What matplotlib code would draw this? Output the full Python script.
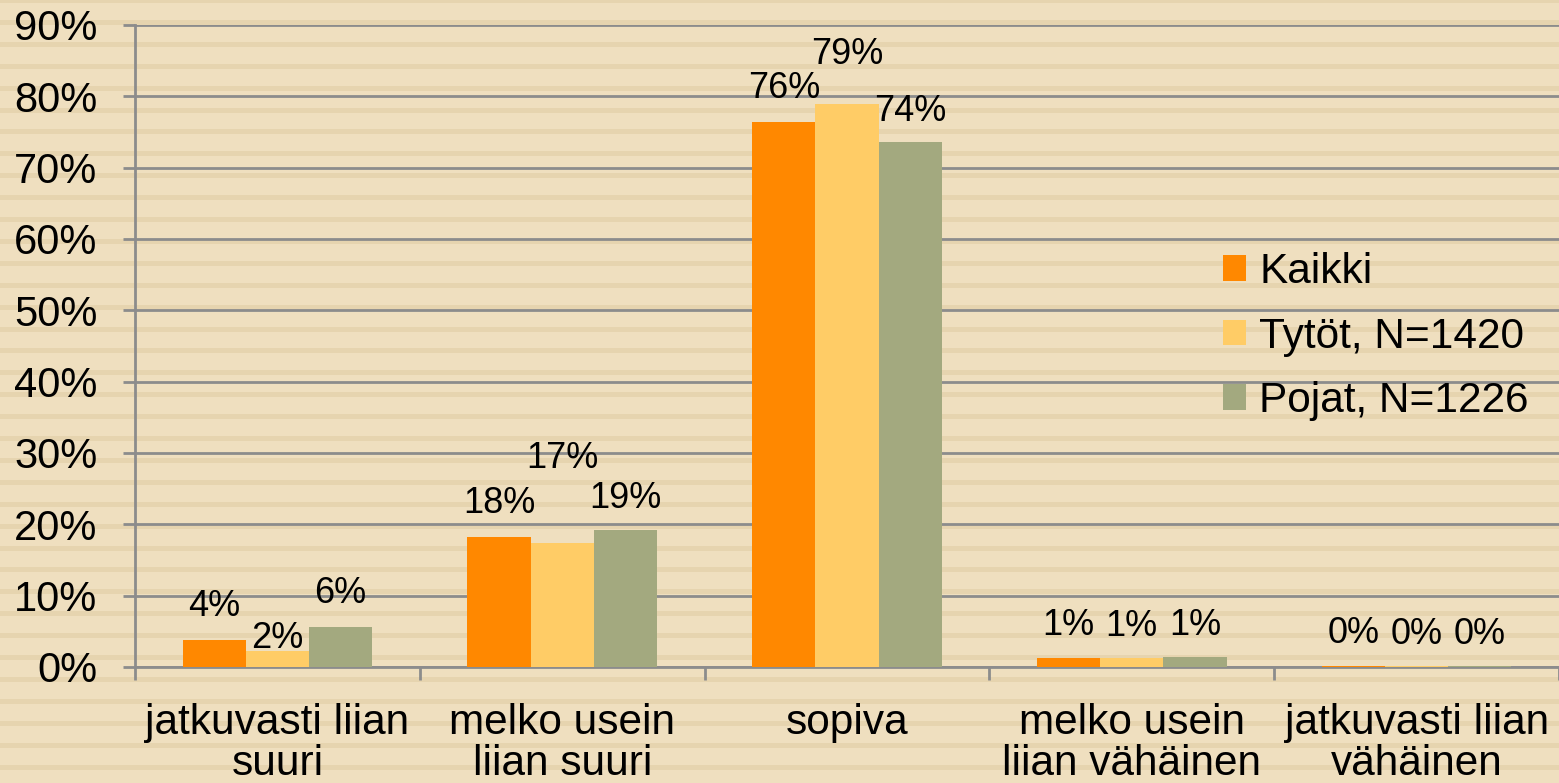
import numpy as np
import matplotlib
matplotlib.use('Agg')
from matplotlib import pyplot as plt

plt.rcParams['font.family'] = ['Liberation Sans', 'DejaVu Sans']

# data
categories = ['jatkuvasti liian\nsuuri', 'melko usein\nliian suuri', 'sopiva',
              'melko usein\nliian vähäinen', 'jatkuvasti liian\nvähäinen']
series_names = ['Kaikki', 'Tytöt, N=1420', 'Pojat, N=1226']
kaikki = [3.8, 18.2, 76.4, 1.3, 0.2]
tytot = [2.2, 17.4, 78.9, 1.2, 0.1]
pojat = [5.6, 19.2, 73.6, 1.4, 0.1]
labels_k = ['4%', '18%', '76%', '1%', '0%']
labels_t = ['2%', '17%', '79%', '1%', '0%']
labels_p = ['6%', '19%', '74%', '1%', '0%']

colors = ['#FF8800', '#FFCC66', '#A3A97F']
bg = '#EFDFBF'
stripe = '#E6D4AF'

W, H = 1559, 783
fig = plt.figure(figsize=(W / 100, H / 100), dpi=100)
fig.patch.set_facecolor(bg)

# striped background
bgax = fig.add_axes([0, 0, 1, 1], zorder=-10)
bgax.set_xlim(0, W)
bgax.set_ylim(H, 0)
bgax.axis('off')
for y0 in np.arange(-2, H, 21.9):
    bgax.axhspan(y0, y0 + 5, color=stripe, lw=0)

ax = fig.add_axes([135 / W, 1 - 667 / H, 1 - 135 / W, (667 - 25) / H])
ax.patch.set_alpha(0)

x = np.arange(len(categories))
bw = 0.222
all_series = [kaikki, tytot, pojat]
all_labels = [labels_k, labels_t, labels_p]
# label offsets (points above bar top)
offs = [[24, 24, 24, 23, 23],
        [9, 61, 36, 23, 23],
        [24, 23, 22, 23, 23]]
for i, (vals, labs) in enumerate(zip(all_series, all_labels)):
    xs = x + (i - 1) * bw
    ax.bar(xs, vals, width=bw, color=colors[i], label=series_names[i], zorder=3)
    for xi, v, lab, o in zip(xs, vals, labs, offs[i]):
        ax.annotate(lab, (xi, v), xytext=(0, o), textcoords='offset points',
                    ha='center', va='center', fontsize=26, zorder=4)

ax.set_xlim(-0.5, len(categories) - 0.5)
ax.set_ylim(0, 90)
ax.set_yticks(np.arange(0, 91, 10))
ax.set_yticklabels([f'{v}%' for v in range(0, 91, 10)], fontsize=30)
ax.yaxis.grid(True, color='#8C8C8C', lw=2, zorder=0)
ax.set_xticks(x)
ax.set_xticklabels(categories, fontsize=30.5, linespacing=1.02)
ax.set_xticks(np.arange(-0.5, len(categories)), minor=True)
ax.tick_params(axis='x', which='major', length=0, pad=26)
ax.tick_params(axis='x', which='minor', length=9, width=2, color='#8C8C8C')
ax.tick_params(axis='y', length=9, width=2, color='#8C8C8C', pad=18)
for s in ['top', 'right']:
    ax.spines[s].set_visible(False)
for s in ['left', 'bottom']:
    ax.spines[s].set_color('#8C8C8C')
    ax.spines[s].set_linewidth(2)

leg = ax.legend(loc='upper left', bbox_to_anchor=(1223 / W, 1 - 252 / H),
                bbox_transform=fig.transFigure, frameon=False, fontsize=30.5,
                handlelength=0.55, handleheight=0.55, handletextpad=0.3,
                labelspacing=0.58, borderaxespad=0, borderpad=0)

fig.savefig('out.png', dpi=100, facecolor=bg)
